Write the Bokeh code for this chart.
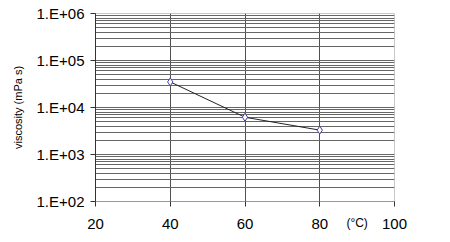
from bokeh.plotting import figure
from bokeh.models import Range1d, FixedTicker, LinearAxis
from bokeh.embed import file_html
from bokeh.resources import INLINE

temperature = [40, 60, 80]
viscosity = [35000, 6200, 3300]
x_ticks = [20, 40, 60, 80, 100]
y_ticks = [1e2, 1e3, 1e4, 1e5, 1e6]
y_tick_labels = ["1.E+02", "1.E+03", "1.E+04", "1.E+05", "1.E+06"]
y_minor = [m * 10 ** e for e in range(2, 6) for m in range(2, 10)]
unit_pos = 90
unit_label = "(°C)"

p = figure(width=450, height=242, y_axis_type="log",
           x_range=Range1d(20, 100), y_range=Range1d(1e2, 1e6),
           output_backend="svg", toolbar_location=None,
           min_border_left=95, min_border_right=56, min_border_top=13, min_border_bottom=41)
p.background_fill_color = "white"
p.border_fill_color = "white"
p.outline_line_color = "#c8c8c8"

p.xaxis.ticker = FixedTicker(ticks=x_ticks)
p.yaxis.ticker = FixedTicker(ticks=y_ticks, minor_ticks=y_minor)
p.yaxis.major_label_overrides = {t: l for t, l in zip(y_ticks, y_tick_labels)}

for ax in (p.xaxis, p.yaxis):
    ax.axis_line_color = "#333333"
    ax.major_tick_line_color = "#333333"
    ax.major_tick_out = 5
    ax.major_tick_in = 0
    ax.minor_tick_out = 0
    ax.minor_tick_in = 0
    ax.major_label_text_font = "Liberation Sans"
    ax.major_label_text_font_size = "15px"
    ax.major_label_text_color = "black"
p.xaxis.axis_line_color = "#999999"
p.yaxis.major_label_standoff = 6
p.xaxis.major_label_standoff = 12

p.yaxis.axis_label = "viscosity (mPa s)"
p.yaxis.axis_label_text_font = "Liberation Sans"
p.yaxis.axis_label_text_font_size = "11px"
p.yaxis.axis_label_text_font_style = "normal"
p.yaxis.axis_label_text_color = "black"
p.yaxis.axis_label_standoff = 10

unit_axis = LinearAxis(ticker=FixedTicker(ticks=[unit_pos]),
                       major_label_overrides={unit_pos: unit_label},
                       axis_line_color=None, major_tick_line_color=None,
                       minor_tick_line_color=None,
                       major_tick_out=0, major_tick_in=0, minor_tick_out=0, minor_tick_in=0,
                       major_label_standoff=-16,
                       major_label_text_font="Liberation Sans",
                       major_label_text_font_size="12px",
                       major_label_text_color="black")
p.add_layout(unit_axis, "below")

p.xgrid.ticker = FixedTicker(ticks=x_ticks[1:-1])
p.xgrid.grid_line_color = "#505050"
p.xgrid.grid_line_width = 1
p.ygrid.grid_line_color = "#666666"
p.ygrid.minor_grid_line_color = "#666666"
p.ygrid.grid_line_width = 1
p.ygrid.minor_grid_line_width = 1

p.line(temperature, viscosity, line_color="#222222", line_width=1)
p.scatter(temperature, viscosity, marker="diamond", size=8,
          line_color="#4040a0", fill_color="white", line_width=1)

open("out.html", "w").write(file_html(p, INLINE))
